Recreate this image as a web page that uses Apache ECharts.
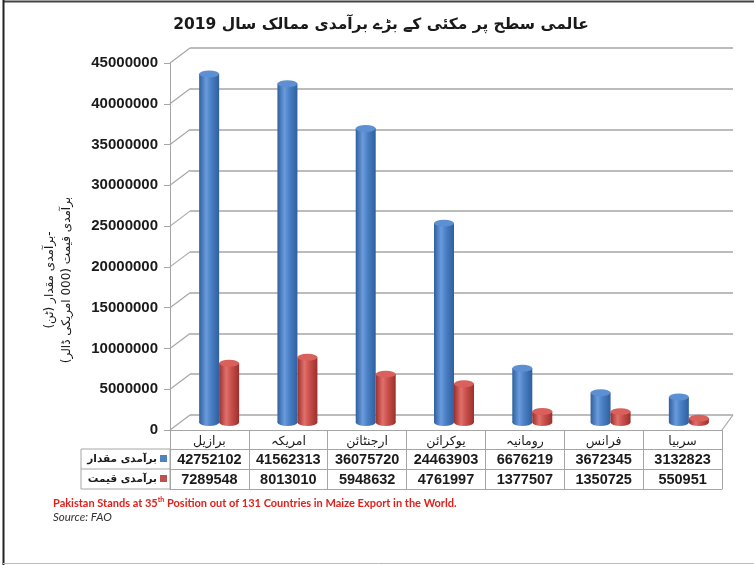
<!DOCTYPE html>
<html>
<head>
<meta charset="utf-8">
<script src="https://cdn.jsdelivr.net/npm/echarts@6.0.0/dist/echarts.min.js"></script>
<title></title>
</head>
<body style="margin:0;background:#fff;">
<div id="main" style="width:754px;height:565px;"></div>
<script type="text/javascript">
// ممالک اور اعداد
var countries = ['برازیل', 'امریکہ', 'ارجنٹائن', 'یوکرائن', 'رومانیہ', 'فرانس', 'سربیا'];
var qtyName = 'برآمدی مقدار';
var priceName = 'برآمدی قیمت';
var qtyValues = [42752102, 41562313, 36075720, 24463903, 6676219, 3672345, 3132823];
var priceValues = [7289548, 8013010, 5948632, 4761997, 1377507, 1350725, 550951];
var yTicks = [0, 5000000, 10000000, 15000000, 20000000, 25000000, 30000000, 35000000, 40000000, 45000000];

var titleText = 'عالمی سطح پر مکئی کے بڑے برآمدی ممالک سال 2019';
var yName = 'برآمدی مقدار (ٹن)-\nبرآمدی قیمت (000 امریکی ڈالر)';
var noteText = 'Pakistan Stands at 35{sup|th} Position out of 131 Countries in Maize Export in the World.';
var sourceText = 'Source: FAO';

var gridColor = '#a6a6a6';
var urdu = 'DejaVu Sans';
var latin = 'Liberation Sans';

function cyl(dark, light, mid) {
    return new echarts.graphic.LinearGradient(0, 0, 1, 0, [
        {offset: 0, color: dark},
        {offset: 0.35, color: light},
        {offset: 0.6, color: mid},
        {offset: 1, color: dark}
    ]);
}
var blueBody = cyl('#2f5f9e', '#6a9bdc', '#4a7fc4');
var redBody = cyl('#9c2f2c', '#e0706b', '#c9504c');

var myChart = echarts.init(document.getElementById('main'));

var yBase = {type: 'value', min: 0, max: 45000000, interval: 5000000};

function rowAxis(offset, values) {
    return {
        gridIndex: 0, type: 'category', data: countries, position: 'bottom', offset: offset,
        axisLine: {lineStyle: {color: gridColor}}, axisTick: {show: false},
        axisLabel: values ? {interval: 0, margin: 3, fontFamily: latin, fontWeight: 'bold', fontSize: 14.5, color: '#1a1a1a',
            formatter: function (v, i) { return String(values[i]); }} : {show: false}
    };
}

myChart.setOption({
    animation: false,
    backgroundColor: '#fff',
    grid: [
        {left: 170, top: 63, width: 552, height: 367},   // سامنے (لیبل اور جدول)
        {left: 190, top: 48, width: 543, height: 367},   // پچھلی دیوار
        {left: 180, top: 55.5, width: 548, height: 367}  // بار
    ],
    xAxis: [
        {
            gridIndex: 0, type: 'category', data: countries, position: 'bottom',
            axisLine: {lineStyle: {color: gridColor}},
            axisTick: {show: true, length: 59, interval: 0, lineStyle: {color: gridColor}},
            axisLabel: {interval: 0, margin: 5, fontFamily: urdu, fontSize: 12.5, color: '#1a1a1a'}
        },
        rowAxis(19, qtyValues),
        rowAxis(39, priceValues),
        rowAxis(59, null),
        {gridIndex: 1, type: 'category', data: countries, show: false},
        {gridIndex: 2, type: 'category', data: countries, show: false}
    ],
    yAxis: [
        Object.assign({}, yBase, {
            gridIndex: 0,
            axisLine: {show: true, lineStyle: {color: gridColor}},
            axisTick: {show: true, length: 6, lineStyle: {color: gridColor}},
            axisLabel: {margin: 12, fontFamily: latin, fontWeight: 'bold', fontSize: 15, color: '#1a1a1a',
                formatter: function (v) { return String(v); }},
            splitLine: {show: false}
        }),
        Object.assign({}, yBase, {
            gridIndex: 1,
            axisLine: {show: false}, axisTick: {show: false}, axisLabel: {show: false},
            splitLine: {show: true, lineStyle: {color: gridColor, width: 1.5}}
        }),
        Object.assign({}, yBase, {gridIndex: 2, show: false})
    ],
    series: [
        {
            // بائیں دیوار اور فرش کی ترچھی لکیریں
            type: 'custom', xAxisIndex: 0, yAxisIndex: 0, clip: false, silent: true,
            data: yTicks.map(function (v) { return [0, v]; }),
            renderItem: function (params, api) {
                var cs = params.coordSys;
                var y = api.coord([0, api.value(1)])[1];
                var children = [{
                    type: 'line',
                    shape: {x1: cs.x, y1: y, x2: cs.x + 20, y2: y - 15},
                    style: {stroke: gridColor, lineWidth: 1.2}
                }];
                if (api.value(1) === 0) {
                    children.push({
                        type: 'line',
                        shape: {x1: cs.x + cs.width, y1: y, x2: cs.x + cs.width + 11, y2: y - 15},
                        style: {stroke: gridColor, lineWidth: 1.2}
                    });
                }
                return {type: 'group', children: children};
            }
        },
        {
            name: qtyName, type: 'bar', xAxisIndex: 5, yAxisIndex: 2,
            barWidth: 20, barGap: '0%', data: qtyValues,
            itemStyle: {color: blueBody}, z: 2
        },
        {
            name: priceName, type: 'bar', xAxisIndex: 5, yAxisIndex: 2,
            barWidth: 20, barGap: '0%', data: priceValues,
            itemStyle: {color: redBody}, z: 2
        },
        {
            type: 'pictorialBar', xAxisIndex: 5, yAxisIndex: 2, data: qtyValues,
            symbol: 'circle', symbolSize: [20, 7], symbolPosition: 'start', symbolOffset: ['-50%', '50%'],
            itemStyle: {color: blueBody}, z: 1
        },
        {
            type: 'pictorialBar', xAxisIndex: 5, yAxisIndex: 2, data: priceValues,
            symbol: 'circle', symbolSize: [20, 7], symbolPosition: 'start', symbolOffset: ['50%', '50%'],
            itemStyle: {color: redBody}, z: 1
        },
        {
            type: 'pictorialBar', xAxisIndex: 5, yAxisIndex: 2, data: qtyValues,
            symbol: 'circle', symbolSize: [20, 7], symbolPosition: 'end', symbolOffset: ['-50%', '-50%'],
            itemStyle: {color: '#5d8fd3', borderColor: '#3f6fb0', borderWidth: 0.5}, z: 3
        },
        {
            type: 'pictorialBar', xAxisIndex: 5, yAxisIndex: 2, data: priceValues,
            symbol: 'circle', symbolSize: [20, 7], symbolPosition: 'end', symbolOffset: ['50%', '-50%'],
            itemStyle: {color: '#d9605b', borderColor: '#b4403c', borderWidth: 0.5}, z: 3
        }
    ],
    graphic: [
        // فریم
        {type: 'line', shape: {x1: 3, y1: 1.5, x2: 754, y2: 1.5}, style: {stroke: '#444', lineWidth: 2}},
        {type: 'line', shape: {x1: 3.5, y1: 0, x2: 3.5, y2: 565}, style: {stroke: '#222', lineWidth: 2}},
        {type: 'line', shape: {x1: 3, y1: 563.5, x2: 754, y2: 563.5}, style: {stroke: '#bbb', lineWidth: 1}},
        // عنوان
        {type: 'text', x: 381, y: 25, style: {text: titleText, fill: '#1a1a1a',
            font: 'bold 15.5px "DejaVu Sans"', textAlign: 'center', textVerticalAlign: 'middle'}},
        // محور کا نام
        {type: 'text', x: 58, y: 280, rotation: Math.PI / 2, style: {text: yName, fill: '#1a1a1a',
            font: '12px "DejaVu Sans"', lineHeight: 17, textAlign: 'center', textVerticalAlign: 'middle'}},
        // جدول کا بائیں خانہ
        {type: 'rect', shape: {x: 81, y: 449, width: 89, height: 40}, style: {fill: 'none', stroke: gridColor, lineWidth: 1}},
        {type: 'line', shape: {x1: 81, y1: 469, x2: 170, y2: 469}, style: {stroke: gridColor, lineWidth: 1}},
        {type: 'rect', shape: {x: 160, y: 455, width: 7, height: 7}, style: {fill: '#4f81bd'}},
        {type: 'rect', shape: {x: 160, y: 475, width: 7, height: 7}, style: {fill: '#c0504d'}},
        {type: 'text', x: 157, y: 459, style: {text: qtyName, fill: '#1a1a1a',
            font: 'bold 10.5px "DejaVu Sans"', textAlign: 'right', textVerticalAlign: 'middle'}},
        {type: 'text', x: 157, y: 479, style: {text: priceName, fill: '#1a1a1a',
            font: 'bold 10.5px "DejaVu Sans"', textAlign: 'right', textVerticalAlign: 'middle'}},
        // نوٹ
        {type: 'text', x: 53, y: 503, style: {text: noteText, fill: '#e0201b',
            font: 'bold 11px Lato', textVerticalAlign: 'middle',
            rich: {sup: {fontSize: 7, fontWeight: 'bold', fontFamily: 'Lato', fill: '#e0201b', verticalAlign: 'top', lineHeight: 13}}}},
        {type: 'text', x: 53, y: 517, style: {text: sourceText, fill: '#333',
            font: 'italic 11.5px Lato', textVerticalAlign: 'middle'}}
    ]
});
</script>
</body>
</html>
